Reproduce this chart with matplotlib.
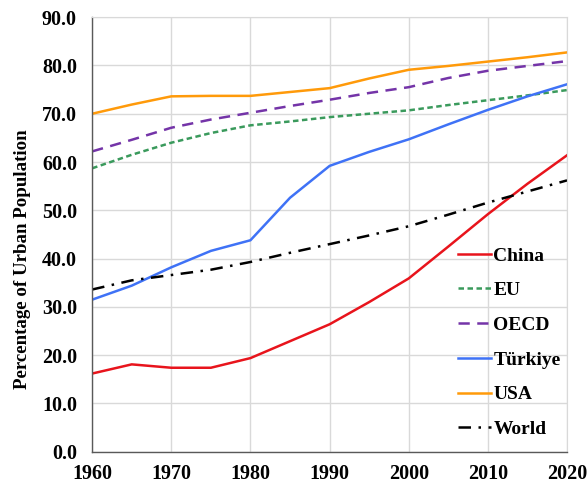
import matplotlib
matplotlib.use("Agg")
import matplotlib.pyplot as plt

years = [1960, 1965, 1970, 1975, 1980, 1985, 1990, 1995, 2000, 2005, 2010, 2015, 2020]

china = [16.2, 18.1, 17.4, 17.4, 19.4, 22.9, 26.4, 31.0, 35.9, 42.5, 49.2, 55.5, 61.4]
eu = [58.7, 61.5, 64.0, 66.0, 67.6, 68.4, 69.3, 70.0, 70.7, 71.8, 72.8, 73.8, 74.9]
oecd = [62.2, 64.6, 67.1, 68.8, 70.2, 71.6, 72.9, 74.3, 75.5, 77.4, 78.9, 79.9, 80.9]
turkiye = [31.5, 34.4, 38.2, 41.6, 43.8, 52.6, 59.2, 62.1, 64.7, 67.8, 70.8, 73.6, 76.1]
usa = [70.0, 71.9, 73.6, 73.7, 73.7, 74.5, 75.3, 77.3, 79.1, 79.9, 80.8, 81.7, 82.7]
world = [33.6, 35.5, 36.6, 37.7, 39.3, 41.2, 43.0, 44.8, 46.7, 49.1, 51.6, 53.9, 56.2]

x_ticks = [1960, 1970, 1980, 1990, 2000, 2010, 2020]
y_ticks = [0, 10, 20, 30, 40, 50, 60, 70, 80, 90]

plt.rcParams['font.family'] = ['Liberation Serif', 'DejaVu Serif']
plt.rcParams['font.weight'] = 'bold'

fig = plt.figure(figsize=(5.87, 4.9), dpi=100)
ax = fig.add_axes([0.157, 0.078, 0.809, 0.887])

ax.plot(years, china, color='#e8141c', lw=1.8, label='China')
ax.plot(years, eu, color='#3a9a5c', lw=1.8, linestyle=(0, (2.2, 1.4)), label='EU')
ax.plot(years, oecd, color='#7434a8', lw=1.8, linestyle=(0, (4.5, 3)), label='OECD')
ax.plot(years, turkiye, color='#3f72f6', lw=1.8, label='Türkiye')
ax.plot(years, usa, color='#ff9a0a', lw=1.8, label='USA')
ax.plot(years, world, color='black', lw=1.8, linestyle=(0, (5, 3, 1, 3)), label='World')

ax.set_xlim(1960, 2020)
ax.set_ylim(0, 90)
ax.set_xticks(x_ticks)
ax.set_yticks(y_ticks)
ax.set_yticklabels([f"{v:.1f}" for v in y_ticks])
ax.tick_params(length=0, labelsize=14.5)
ax.tick_params(axis='y', pad=11)
ax.tick_params(axis='x', pad=9)
for lab in ax.get_xticklabels() + ax.get_yticklabels():
    lab.set_fontweight('bold')

ax.grid(True, color='#d9d9d9', lw=1)
ax.set_axisbelow(True)
for side in ['top', 'right']:
    ax.spines[side].set_color('#d9d9d9')
for side in ['left', 'bottom']:
    ax.spines[side].set_color('#595959')
    ax.spines[side].set_linewidth(1)

ax.set_ylabel("Percentage of Urban Population", fontsize=13.6, fontweight='bold')
ax.yaxis.set_label_coords(-0.128, 0.444)

ax.legend(loc='lower right', bbox_to_anchor=(1.015, 0.0), frameon=False,
          prop={'size': 14, 'weight': 'bold'}, handlelength=1.7,
          handletextpad=0.1, labelspacing=0.88, borderaxespad=0.3)

fig.savefig("out.png", dpi=100)
